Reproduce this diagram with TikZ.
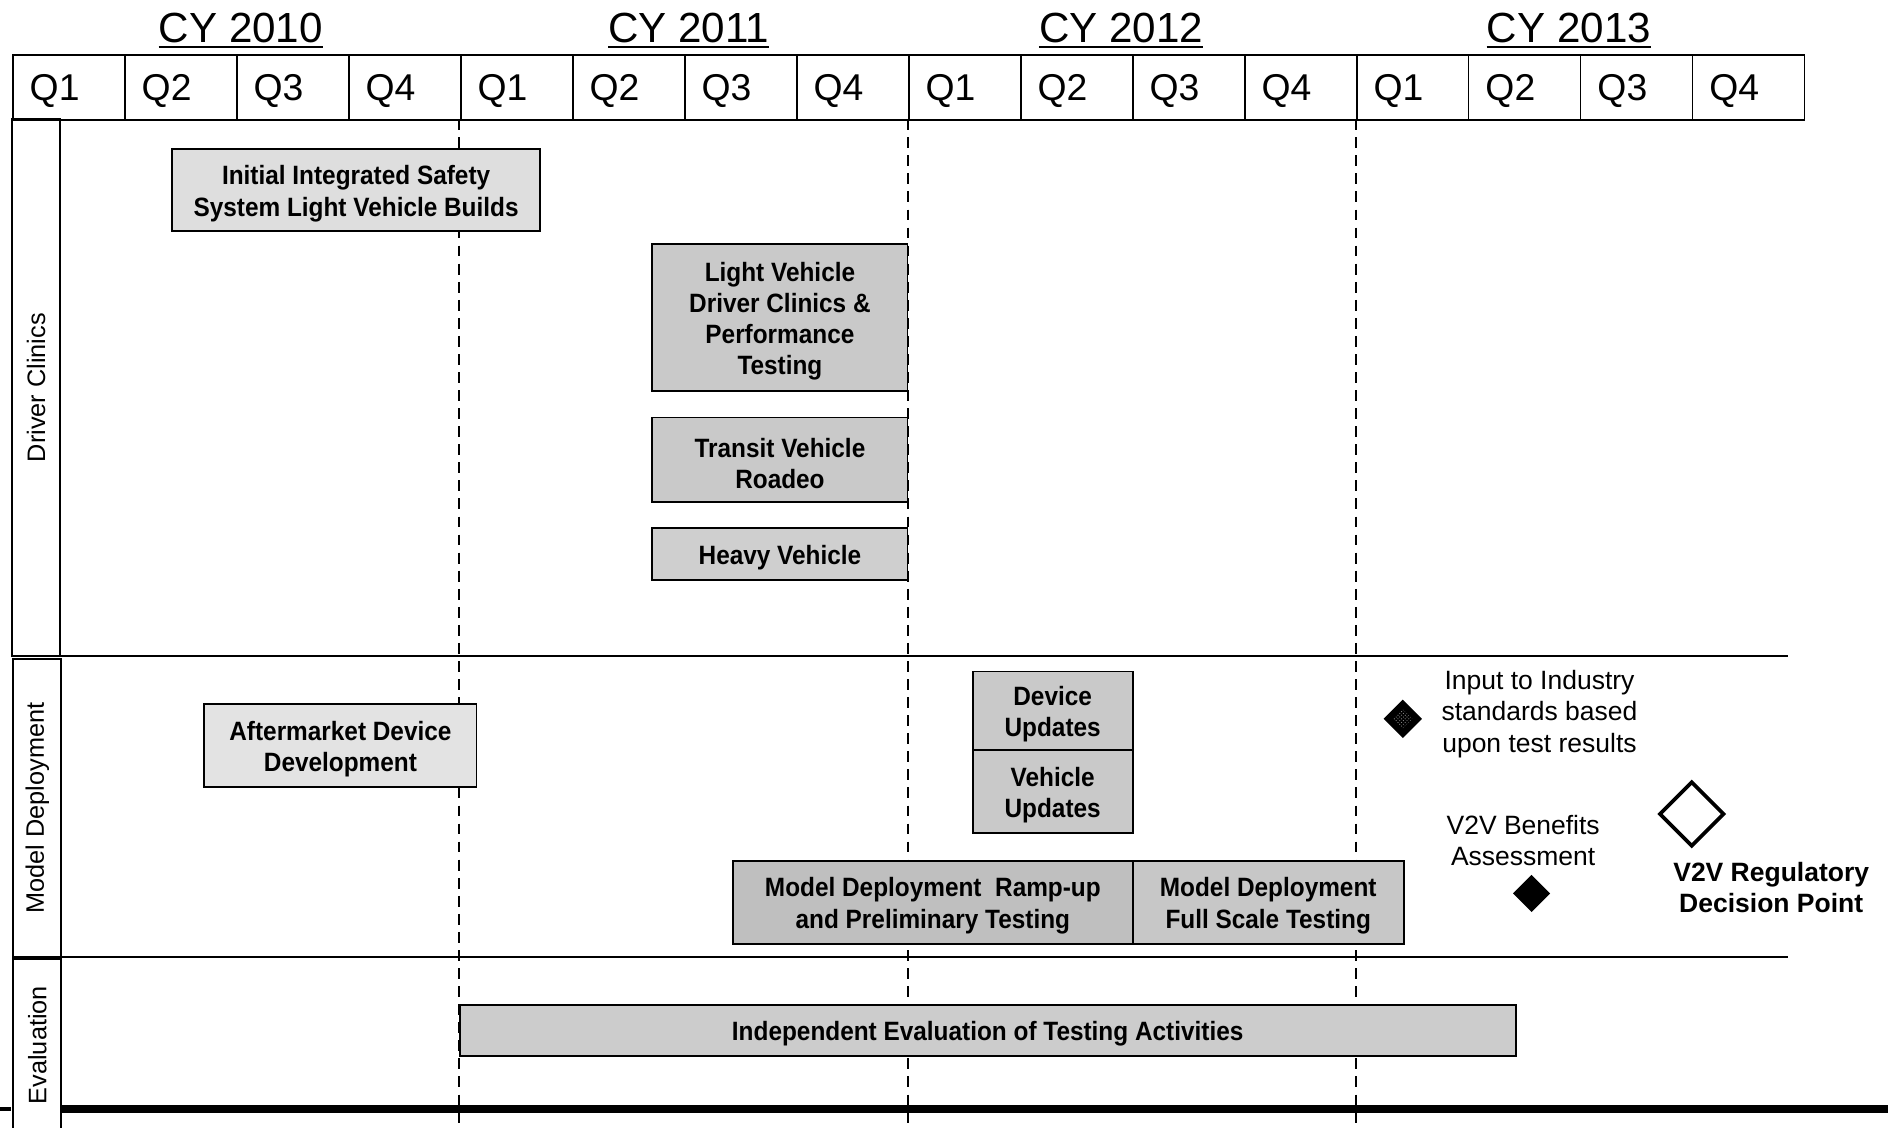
\documentclass[tikz,border=0pt]{standalone}
\usepackage{fontspec}
\setmainfont{Liberation Sans}
\newfontfamily\condfont[FakeStretch=0.92]{Liberation Sans Bold}
\usetikzlibrary{shapes.geometric,patterns}
% extra head room on the first line of an activity label
\newcommand\topgap{\rule{0pt}{22pt}}

\begin{document}
\begin{tikzpicture}[x=1pt,y=-1pt,
  qcell/.style={draw, line width=1.4pt, anchor=north west, minimum height=54pt,
    text width=65pt, inner xsep=14pt, inner ysep=0pt, align=left,
    text height=22pt, text depth=0pt,
    font=\fontsize{31}{31}\selectfont},
  year/.style={anchor=base, inner sep=0pt, font=\fontsize{35}{35}\selectfont},
  yearline/.style={line width=2pt},
  lane/.style={draw, line width=1.6pt, rotate=90, minimum height=40pt,
    inner sep=0pt, font=\fontsize{21}{21}\selectfont},
  rowline/.style={line width=1.8pt},
  qdash/.style={line width=1.3pt, dash pattern=on 9pt off 6pt},
  task/.style={draw, line width=1.5pt, anchor=north west, inner sep=0pt,
    align=center, font=\condfont\fontsize{22}{26}\selectfont},
  note/.style={inner sep=0pt, align=center, font=\fontsize{22}{26}\selectfont},
  milestone/.style={diamond, inner sep=0pt, fill=black},
]
% canvas
\fill[white] (0,0) rectangle (1568,936);
\useasboundingbox (0,0) rectangle (1568,936);

% calendar years
\foreach \yr/\cx in {2010/200, 2011/572, 2012/931, 2013/1303} {
  \node[year] (cy\yr) at (\cx,35) {CY \yr};
  \draw[yearline] ([yshift=-4pt]cy\yr.base west) -- ([yshift=-4pt]cy\yr.base east);
}

% quarter header
\foreach \i in {0,...,15} {
  \pgfmathtruncatemacro\q{mod(\i,4)+1}
  \node[qcell] (q\i) at ({10+93*\i},45) {Q\q};
}

% year boundaries
\foreach \xx in {381,754,1126}
  \draw[qdash] (\xx,99) -- (\xx,936);

% swim lanes
\node[lane, minimum width=446pt] (laneDC) at (30,322) {Driver Clinics};
\node[lane, minimum width=248pt] (laneMD) at (31,671) {Model Deployment};
\node[lane, minimum width=143pt] (laneEV) at (31,868) {Evaluation};
\draw[rowline] (50,545) -- (1485,545);
\draw[rowline] (50,795) -- (1485,795);
\draw[line width=6pt] (50,921) -- (1568,921);
\draw[line width=4pt] (0,921) -- (9,921);

% driver clinic activities
\node[task, fill=black!13, minimum width=306pt, minimum height=68pt] (builds) at (142,123)
  {\topgap Initial Integrated Safety\\System Light Vehicle Builds};
\node[task, fill=black!21, minimum width=212pt, minimum height=122pt] (lvclinic) at (541,202)
  {\topgap Light Vehicle\\Driver Clinics \&\\Performance\\Testing};
\node[task, fill=black!21, minimum width=212pt, minimum height=70pt] (transit) at (541,346)
  {\topgap Transit Vehicle\\Roadeo};
\node[task, fill=black!19, minimum width=212pt, minimum height=43pt] (heavy) at (541,438)
  {\topgap Heavy Vehicle};

% model deployment activities
\node[task, fill=black!11, minimum width=226pt, minimum height=69pt] (aftermkt) at (169,584)
  {\topgap Aftermarket Device\\Development};
\node[task, fill=black!21, minimum width=133pt, minimum height=65pt] (devupd) at (807,557)
  {\topgap Device\\Updates};
\node[task, fill=black!21, minimum width=133pt, minimum height=69pt] (vehupd) at (807,622)
  {\topgap Vehicle\\Updates};
\node[task, fill=black!25, minimum width=332pt, minimum height=69pt] (rampup) at (608,714)
  {\topgap Model Deployment\ \ Ramp-up\\and Preliminary Testing};
\node[task, fill=black!22, minimum width=225pt, minimum height=69pt] (fullscale) at (940,714)
  {\topgap Model Deployment\\Full Scale Testing};

% evaluation
\node[task, fill=black!20, minimum width=877pt, minimum height=42pt] (indep) at (381,834)
  {\topgap Independent Evaluation of Testing Activities};

% milestones
\node[milestone, minimum size=32pt] (inmark) at (1165,597) {};
\node[diamond, inner sep=0pt, minimum size=16pt, pattern=crosshatch dots,
  pattern color=black!45] (inmarkcore) at (inmark) {};
\node[note, anchor=west] (input) at (1197,593)
  {Input to Industry\\standards based\\upon test results};

\node[note] (benefit) at (1265,698) {V2V Benefits\\Assessment};
\node[milestone, minimum size=31pt] (benmark) at (1272,742) {};

\node[diamond, draw, line width=3pt, fill=white, inner sep=0pt, minimum size=54pt] (decide) at (1405,676) {};
\node[note, font=\bfseries\fontsize{22}{26}\selectfont] (decision) at (1471,737)
  {V2V Regulatory\\Decision Point};
\end{tikzpicture}
\end{document}
